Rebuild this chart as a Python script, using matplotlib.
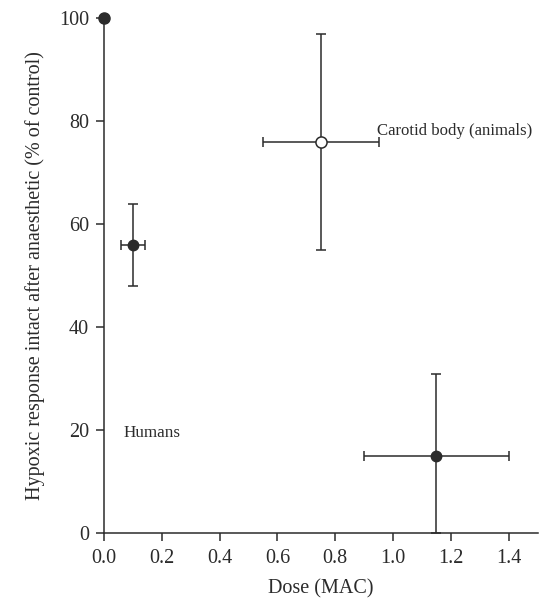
import matplotlib.pyplot as plt

plt.rcParams['font.family'] = ['Liberation Serif', 'DejaVu Serif']
plt.rcParams['font.size'] = 14.5

# data
dose = [0.1, 1.15]
resp = [56, 15]
dose_lo = [0.04, 0.25]
dose_hi = [0.04, 0.25]
resp_lo = [8, 15]
resp_hi = [8, 16]

cb_dose = [0.75]
cb_resp = [76]
cb_dose_err = [0.2]
cb_resp_lo = [21]
cb_resp_hi = [21]

ctrl_dose = [0.0]
ctrl_resp = [100]

col = '#2b2b2b'

fig = plt.figure(figsize=(5.57, 6.02), dpi=100)
ax = fig.add_axes([0.187, 0.114, 0.778, 0.856])

ax.errorbar(dose, resp, xerr=[dose_lo, dose_hi], yerr=[resp_lo, resp_hi],
            fmt='o', color=col, ms=7.5, mfc=col, mec=col, ecolor=col,
            elinewidth=1.1, capsize=3.5, capthick=1.1, clip_on=False, zorder=3)
ax.errorbar(cb_dose, cb_resp, xerr=cb_dose_err, yerr=[cb_resp_lo, cb_resp_hi],
            fmt='o', color=col, ms=8, mfc='white', mec=col, mew=1.1, ecolor=col,
            elinewidth=1.1, capsize=3.5, capthick=1.1, clip_on=False, zorder=3)
ax.plot(ctrl_dose, ctrl_resp, 'o', color=col, ms=8, clip_on=False, zorder=4)

ax.text(0.944, 78, 'Carotid body (animals)', ha='left', va='center', color=col, fontsize=12.1)
ax.text(0.066, 19.5, 'Humans', ha='left', va='center', color=col, fontsize=12.3)

ax.set_xlim(0, 1.5)
ax.set_ylim(0, 100)
ax.set_xticks([0.0, 0.2, 0.4, 0.6, 0.8, 1.0, 1.2, 1.4])
ax.set_xticklabels(['0.0', '0.2', '0.4', '0.6', '0.8', '1.0', '1.2', '1.4'])
ax.set_yticks([0, 20, 40, 60, 80, 100])
ax.spines['top'].set_visible(False)
ax.spines['right'].set_visible(False)
for s in ['left', 'bottom']:
    ax.spines[s].set_color(col)
    ax.spines[s].set_linewidth(1.1)
ax.tick_params(direction='out', length=6, width=1.1, color=col, labelcolor=col, pad=5)
ax.set_xlabel('Dose (MAC)', color=col, labelpad=8)
ax.set_ylabel('Hypoxic response intact after anaesthetic (% of control)', color=col, labelpad=10)

fig.savefig('out.png', dpi=100)
